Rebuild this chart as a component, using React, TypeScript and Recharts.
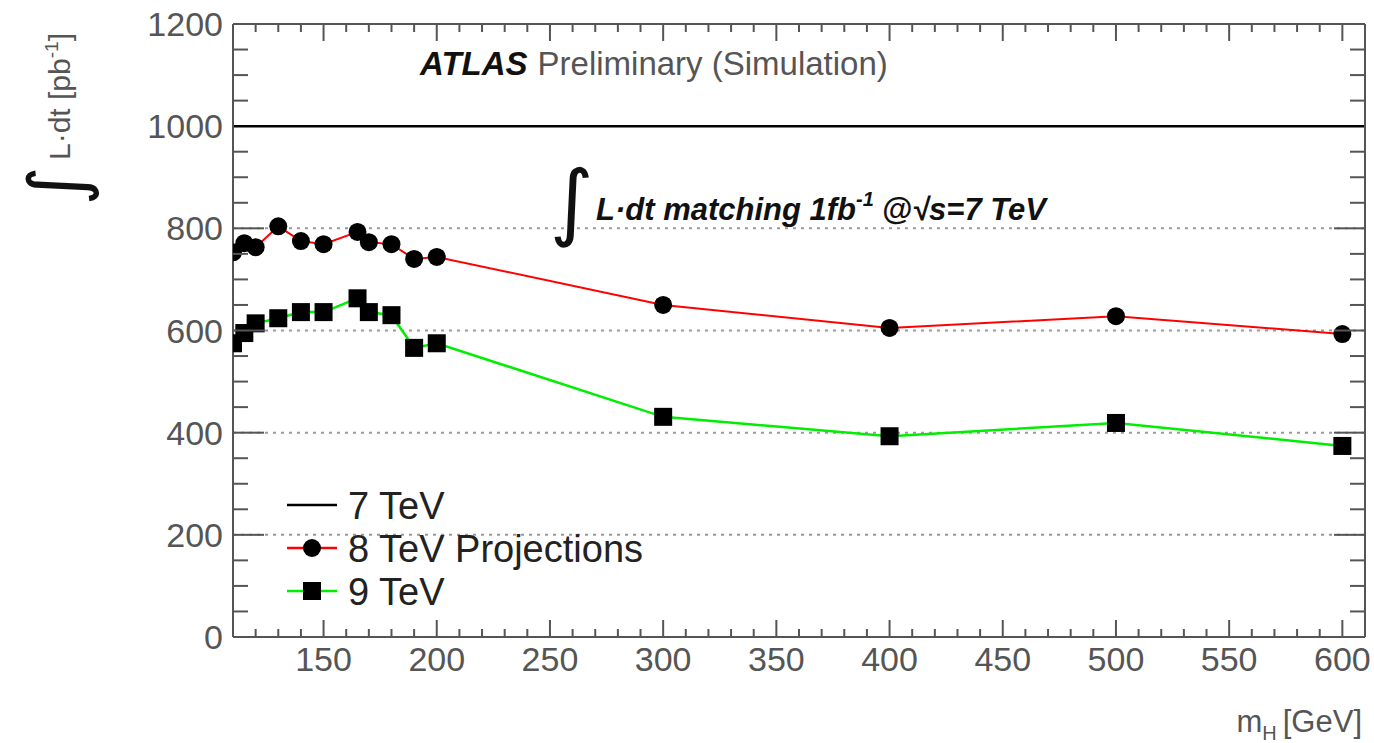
import { LineChart, Line, XAxis, YAxis, CartesianGrid, ReferenceLine, Legend } from "recharts"

// m_H points [GeV] and integrated luminosity needed [pb^-1]
const massPoints = [110, 115, 120, 130, 140, 150, 165, 170, 180, 190, 200, 300, 400, 500, 600]
const lumi8TeV = [753, 771, 763, 804, 775, 769, 793, 773, 769, 740, 744, 650, 605, 628, 593]
const lumi9TeV = [575, 595, 614, 624, 636, 636, 663, 636, 630, 566, 575, 431, 393, 419, 374]
const lumi7TeV = 1000

const seriesNames = ["7 TeV", "8 TeV Projections", "9 TeV"]
const xDomain = [110, 610]
const yDomain = [0, 1200]
const gridValues = [200, 400, 600, 800]

const range = (a: number, b: number, step: number) => {
  const out: number[] = []
  for (let v = a; v <= b; v += step) out.push(v)
  return out
}
const xTicks = range(110, 610, 10)
const yTicks = range(0, 1200, 50)

const data = massPoints.map((m, i) => ({ m, tev8: lumi8TeV[i], tev9: lumi9TeV[i] }))

const AXIS = "#555"
const FONT = "'Liberation Sans', Arial, sans-serif"
const RED = "#ff0000"
const GREEN = "#00ee00"

const BottomTick = ({ x, y, payload }: any) => {
  const major = payload.value % 50 === 0
  return (
    <g>
      <line x1={x} x2={x} y1={y} y2={y - (major ? 17 : 8)} stroke={AXIS} strokeWidth={2} />
      {major && (
        <text x={x} y={y + 34} textAnchor="middle" fontSize={34} fill={AXIS} fontFamily={FONT}>
          {payload.value}
        </text>
      )}
    </g>
  )
}

const TopTick = ({ x, y, payload }: any) => {
  const major = payload.value % 50 === 0
  return <line x1={x} x2={x} y1={y} y2={y + (major ? 17 : 8)} stroke={AXIS} strokeWidth={2} />
}

const LeftTick = ({ x, y, payload }: any) => {
  const major = payload.value % 200 === 0
  // the 7 TeV line sits on top of this tick in the original
  const hideLine = payload.value === lumi7TeV
  return (
    <g>
      {!hideLine && <line x1={x} x2={x + (major ? 31 : 15)} y1={y} y2={y} stroke={AXIS} strokeWidth={2} />}
      {major && (
        <text x={x - 10} y={y + 12} textAnchor="end" fontSize={34} fill={AXIS} fontFamily={FONT}>
          {payload.value}
        </text>
      )}
    </g>
  )
}

const RightTick = ({ x, y, payload }: any) => {
  const major = payload.value % 200 === 0
  if (payload.value === lumi7TeV) return <g />
  return <line x1={x} x2={x - (major ? 31 : 15)} y1={y} y2={y} stroke={AXIS} strokeWidth={2} />
}

const CircleDot = (props: any) => {
  const { cx, cy, index } = props
  return <circle key={`c-${index}`} cx={cx} cy={cy} r={9} fill="#000" />
}

const SquareDot = (props: any) => {
  const { cx, cy, index } = props
  return <rect key={`s-${index}`} x={cx - 9} y={cy - 9} width={18} height={18} fill="#000" />
}

const LegendBox = () => {
  const colors = ["#000", RED, GREEN]
  return (
    <svg width={460} height={140} style={{ overflow: "visible" }}>
      {seriesNames.map((name, i) => {
        const cy = 20 + i * 43
        return (
          <g key={name}>
            <line x1={7} x2={57} y1={cy} y2={cy} stroke={colors[i]} strokeWidth={2.5} />
            {i === 1 && <circle cx={32} cy={cy} r={9} fill="#000" />}
            {i === 2 && <rect x={23} y={cy - 9} width={18} height={18} fill="#000" />}
            <text x={68} y={cy + 14} fontSize={38} fill="#222" fontFamily={FONT}>
              {name}
            </text>
          </g>
        )
      })}
    </svg>
  )
}

export default function App() {
  return (
    <div style={{ position: "absolute", left: 0, top: 0, width: 1374, height: 743, background: "#fff" }}>
      <LineChart
        width={1374}
        height={743}
        data={data}
        margin={{ top: 22, right: 7, bottom: 56, left: 153 }}
        style={{ fontFamily: FONT }}
      >
        <CartesianGrid
          vertical={false}
          horizontalValues={gridValues}
          stroke="#999"
          strokeWidth={2}
          strokeDasharray="3 5"
        />
        <XAxis
          dataKey="m"
          type="number"
          domain={xDomain}
          allowDataOverflow
          ticks={xTicks}
          interval={0}
          height={50}
          tickSize={0}
          tickMargin={0}
          tickLine={false}
          axisLine={{ stroke: AXIS, strokeWidth: 2 }}
          tick={<BottomTick />}
        />
        <XAxis
          xAxisId="top"
          orientation="top"
          dataKey="m"
          type="number"
          domain={xDomain}
          allowDataOverflow
          ticks={xTicks}
          interval={0}
          height={2}
          tickSize={0}
          tickMargin={0}
          tickLine={false}
          axisLine={{ stroke: AXIS, strokeWidth: 2 }}
          tick={<TopTick />}
        />
        <YAxis
          type="number"
          domain={yDomain}
          allowDataOverflow
          ticks={yTicks}
          interval={0}
          width={80}
          tickSize={0}
          tickMargin={0}
          tickLine={false}
          axisLine={{ stroke: AXIS, strokeWidth: 2 }}
          tick={<LeftTick />}
        />
        <YAxis
          yAxisId="right"
          orientation="right"
          type="number"
          domain={yDomain}
          allowDataOverflow
          ticks={yTicks}
          interval={0}
          width={2}
          tickSize={0}
          tickMargin={0}
          tickLine={false}
          axisLine={{ stroke: AXIS, strokeWidth: 2 }}
          tick={<RightTick />}
        />
        <ReferenceLine y={lumi7TeV} stroke="#000" strokeWidth={2.5} />
        <Line
          dataKey="tev8"
          name={seriesNames[1]}
          stroke={RED}
          strokeWidth={2}
          dot={CircleDot}
          activeDot={false}
          isAnimationActive={false}
        />
        <Line
          dataKey="tev9"
          name={seriesNames[2]}
          stroke={GREEN}
          strokeWidth={2.5}
          dot={SquareDot}
          activeDot={false}
          isAnimationActive={false}
        />
        <Legend
          layout="horizontal"
          verticalAlign="middle"
          align="center"
          content={<LegendBox />}
          wrapperStyle={{ left: 280, top: 485, width: 460, height: 140 }}
        />
      </LineChart>

      <svg
        width={1374}
        height={743}
        style={{ position: "absolute", left: 0, top: 0, pointerEvents: "none" }}
        fontFamily={FONT}
      >
        {/* header */}
        <text x={420} y={75} fontSize={33}>
          <tspan fontWeight="bold" fontStyle="italic" fill="#111">ATLAS</tspan>
          <tspan fill="#555" dx={10}>Preliminary (Simulation)</tspan>
        </text>

        {/* in-plot annotation */}
        <text x={572} y={230} fontSize={84} fill="#111" textAnchor="middle" fontFamily="'DejaVu Sans', sans-serif">
          ∫
        </text>
        <text x={596} y={220} fontSize={31} fontWeight="bold" fontStyle="italic" fill="#111">
          L·dt matching 1fb
          <tspan fontSize={20} dy={-14}>-1</tspan>
          <tspan dy={14} dx={8}>@√s=7 TeV</tspan>
        </text>

        {/* y axis title */}
        <text transform="translate(70,160) rotate(-90)" fontSize={30} fill="#555">
          L·dt [pb
          <tspan fontSize={19} dy={-12}>-1</tspan>
          <tspan dy={12}>]</tspan>
        </text>
        <text
          transform="translate(56,186) rotate(-90)"
          fontSize={76}
          fill="#111"
          textAnchor="middle"
          dominantBaseline="central"
          fontFamily="'DejaVu Sans', sans-serif"
        >
          ∫
        </text>

        {/* x axis title */}
        <text x={1362} y={732} fontSize={31} fill="#555" textAnchor="end">
          m<tspan fontSize={20} dy={8}>H</tspan>
          <tspan dy={-8} dx={6}>[GeV]</tspan>
        </text>
      </svg>
    </div>
  )
}
